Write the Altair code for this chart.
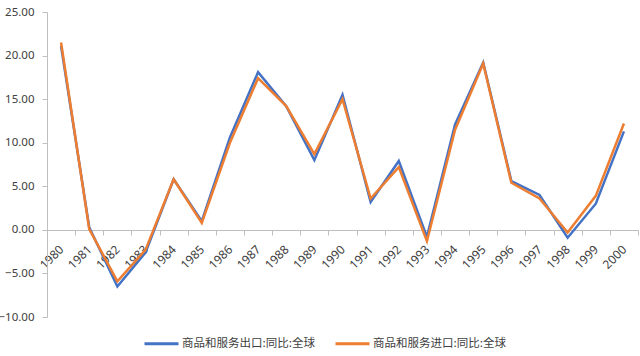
import altair as alt
import pandas as pd

years = [str(y) for y in range(1980, 2001)]
export_vals = [21.1, 0.3, -6.5, -2.6, 5.8, 1.0, 10.6, 18.1, 14.2, 8.0, 15.5, 3.2, 7.9, -0.8, 12.1, 19.2, 5.6, 4.0, -0.9, 3.0, 11.3]
import_vals = [21.5, 0.1, -5.9, -2.3, 5.8, 0.8, 10.0, 17.4, 14.2, 8.7, 15.0, 3.6, 7.2, -1.3, 11.5, 19.1, 5.4, 3.6, -0.3, 3.9, 12.2]
series = ["商品和服务出口:同比:全球", "商品和服务进口:同比:全球"]
colors = ["#4472C4", "#ED7D31"]
y_ticks = [-10, -5, 0, 5, 10, 15, 20, 25]

rows = []
for i, y in enumerate(years):
    rows.append({"year": y, "series": series[0], "value": export_vals[i], "order": 0})
    rows.append({"year": y, "series": series[1], "value": import_vals[i], "order": 1})
df = pd.DataFrame(rows)

font = "Noto Sans"
cjk = "Noto Sans CJK SC"

chart = alt.Chart(df).mark_line(strokeWidth=2.5).encode(
    x=alt.X("year:N", sort=years, title=None,
            scale=alt.Scale(paddingInner=0, paddingOuter=0),
            axis=alt.Axis(labelAngle=-45, labelAlign="right", labelBaseline="middle",
                          offset=-87, tickBand="extent", domainColor="#bfbfbf",
                          tickColor="#bfbfbf", tickSize=5, labelFont=font, labelFontSize=12,
                          labelColor="#404040", labelPadding=12, grid=False)),
    y=alt.Y("value:Q", title=None,
            scale=alt.Scale(domain=[-10, 25], nice=False, zero=False),
            axis=alt.Axis(values=y_ticks, format=".2f", domainColor="#bfbfbf",
                          tickColor="#bfbfbf", tickSize=5, labelFont=font, labelFontSize=11.5,
                          labelColor="#404040", labelPadding=8, grid=False)),
    color=alt.Color("series:N", sort=series,
                    scale=alt.Scale(domain=series, range=colors),
                    legend=alt.Legend(title=None, orient="none", legendX=96, legendY=313,
                                      direction="horizontal", symbolType="stroke",
                                      symbolSize=1156, symbolStrokeWidth=3, padding=0,
                                      labelFont=cjk, labelFontSize=11.5, labelColor="#404040",
                                      columnPadding=14, labelLimit=300, labelOffset=2)),
    order=alt.Order("order:Q"),
).properties(
    width=591, height=305,
    padding={"left": 47, "top": 12, "right": 2, "bottom": 39},
    autosize=alt.AutoSizeParams(type="none"),
).configure(background="white", view=alt.ViewConfig(stroke=None))

chart.save("out.html", embed_options={"renderer": "svg", "actions": False})
